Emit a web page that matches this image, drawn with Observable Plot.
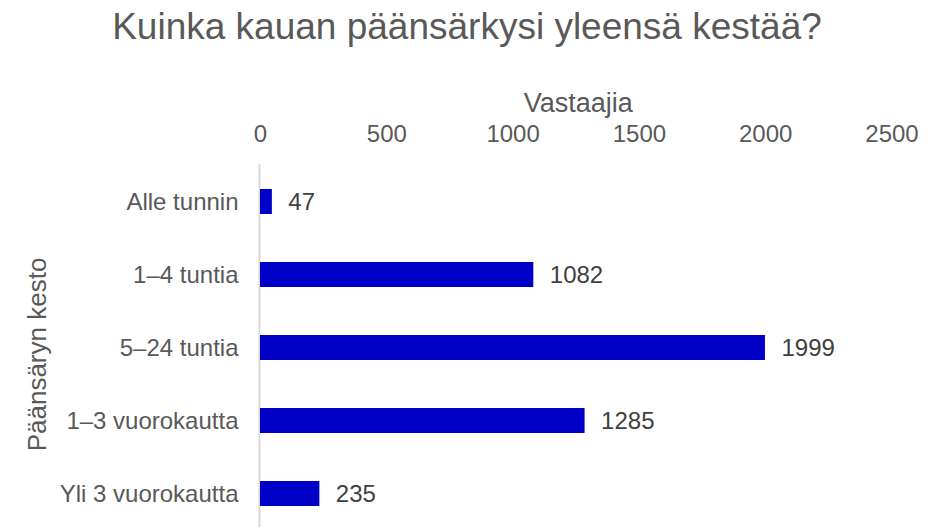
<!DOCTYPE html>
<html>
<head>
<meta charset="utf-8">
<script src="https://cdn.jsdelivr.net/npm/d3@7"></script>
<script src="https://cdn.jsdelivr.net/npm/@observablehq/plot@0.6"></script>
<style>
  html, body { margin: 0; padding: 0; background: #fff; }
  #title { width: 941px; height: 53px; line-height: 53px; text-align: center; box-sizing: border-box; padding-right: 7px;
    font-family: "Liberation Sans", Arial, sans-serif; font-size: 37px; color: #595959; white-space: nowrap; }
</style>
</head>
<body>
<div id="title">Kuinka kauan päänsärkysi yleensä kestää?</div>
<div id="chart"></div>
<script>
const categories = ["Alle tunnin", "1–4 tuntia", "5–24 tuntia", "1–3 vuorokautta", "Yli 3 vuorokautta"];
const values = [47, 1082, 1999, 1285, 235];
const xTicks = [0, 500, 1000, 1500, 2000, 2500];
const xLabel = "Vastaajia";
const yLabel = "Päänsäryn kesto";

const data = categories.map((c, i) => ({cat: c, value: values[i]}));

const chart = Plot.plot({
  width: 941,
  height: 474,
  marginLeft: 260,
  marginRight: 49.5,
  marginTop: 111,
  marginBottom: 0,
  style: {fontFamily: "'Liberation Sans', Arial, sans-serif", background: "#fff"},
  x: {domain: [0, 2500], axis: null},
  y: {domain: categories, range: [110.9, 477.1], paddingInner: 0.66, paddingOuter: 0.33, axis: null},
  marks: [
    Plot.axisX(xTicks, {anchor: "top", tickSize: 0, tickPadding: 23, fontSize: 24, fill: "#595959", label: null, tickFormat: d => String(d)}),
    Plot.text([xLabel], {frameAnchor: "top", lineAnchor: "bottom", dy: -53, dx: 2, fontSize: 27, fill: "#595959"}),
    Plot.axisY({tickSize: 0, tickPadding: 22, fontSize: 24, fill: "#595959", label: null}),
    Plot.text([yLabel], {frameAnchor: "left", textAnchor: "middle", rotate: -90, lineAnchor: "bottom", dx: -215, dy: 8.5, fontSize: 26, fill: "#595959"}),
    Plot.ruleX([0], {stroke: "#d9d9d9", strokeWidth: 2, dx: -1}),
    Plot.barX(data, {x: "value", y: "cat", fill: "#0000c8"}),
    Plot.text(data, {x: "value", y: "cat", text: d => String(d.value), textAnchor: "start", dx: 16, fontSize: 24, fill: "#404040"})
  ]
});
document.getElementById("chart").appendChild(chart);
</script>
</body>
</html>
